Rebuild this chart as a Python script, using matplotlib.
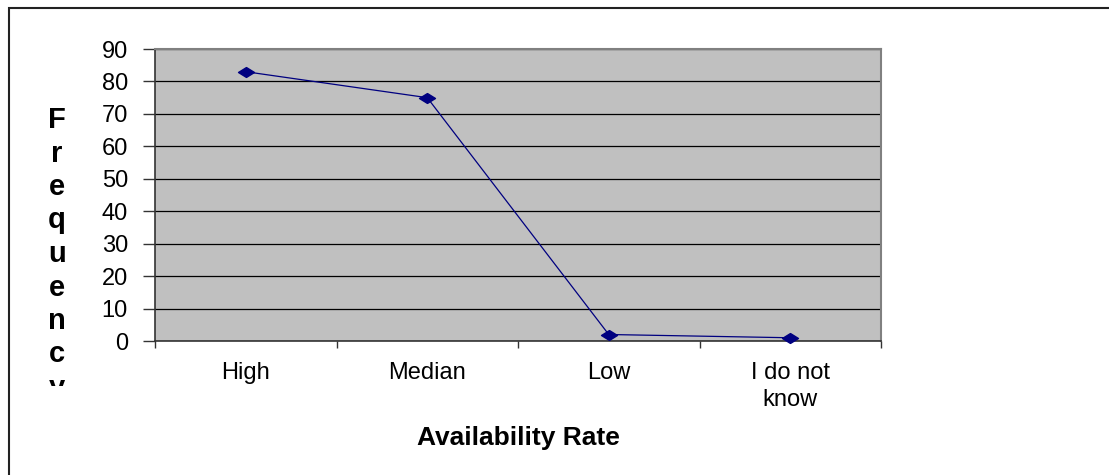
import matplotlib
matplotlib.use("Agg")
import matplotlib.pyplot as plt
from matplotlib.path import Path
from matplotlib.patches import Rectangle
from matplotlib.transforms import Bbox

categories = ["High", "Median", "Low", "I do not\nknow"]
frequency = [83, 75, 2, 1]
y_ticks = [0, 10, 20, 30, 40, 50, 60, 70, 80, 90]

plt.rcParams['font.family'] = ['Liberation Sans', 'DejaVu Sans']

W, H = 1109, 475
fig = plt.figure(figsize=(W / 100, H / 100), dpi=100)

def px(x0, y0, x1, y1):
    return [x0 / W, 1 - y1 / H, (x1 - x0) / W, (y1 - y0) / H]

ax = fig.add_axes(px(155, 49, 881, 341))
ax.set_facecolor('#C0C0C0')

xs = [i + 0.5 for i in range(len(categories))]
diamond = Path([(-1, 0), (0, 0.62), (1, 0), (0, -0.62), (-1, 0)],
               [Path.MOVETO, Path.LINETO, Path.LINETO, Path.LINETO, Path.CLOSEPOLY])
ax.plot(xs, frequency, color='#000080', lw=0.9, marker=diamond,
        markersize=11.5, markerfacecolor='#000080', markeredgecolor='#000080',
        zorder=5, clip_on=False)

ax.set_xlim(0, len(categories))
ax.set_ylim(0, 90)
ax.set_yticks(y_ticks)
ax.set_yticklabels([str(v) for v in y_ticks], fontsize=17)
ax.yaxis.grid(True, color='black', lw=0.9)
ax.set_axisbelow(True)

ax.set_xticks(range(len(categories) + 1))
ax.set_xticklabels([])
ax.set_xticks(xs, minor=True)
ax.set_xticklabels(categories, minor=True, fontsize=17)
for lab in ax.xaxis.get_minorticklabels():
    lab.set_linespacing(1.3)
ax.tick_params(axis='x', which='minor', length=0, pad=15)
ax.tick_params(axis='x', which='major', length=5, width=1, color='#333333')
ax.tick_params(axis='y', length=9, width=1, color='#333333', pad=10.5)

for s in ['top', 'right']:
    ax.spines[s].set_color('#808080')
    ax.spines[s].set_linewidth(1.5)
for s in ['left', 'bottom']:
    ax.spines[s].set_color('#333333')
    ax.spines[s].set_linewidth(1.2)

fig.text(518 / W, 1 - 438 / H, "Availability Rate", fontsize=19,
         fontweight='bold', ha='center', va='center')

t = fig.text(57 / W, 1 - 106 / H, "\n".join("Frequency"), fontsize=21,
             fontweight='bold', ha='center', va='top', linespacing=1.25)
t.set_clip_box(Bbox.from_extents(0, 1 - 386 / H, 1, 1).transformed(fig.transFigure))
t.set_clip_on(True)

fig.patches.append(Rectangle((8.5 / W, -0.1), 2, 1 - 7.5 / H + 0.1,
                             transform=fig.transFigure, fill=False,
                             edgecolor='#222222', lw=1.5))

fig.savefig("out.png", dpi=100)
